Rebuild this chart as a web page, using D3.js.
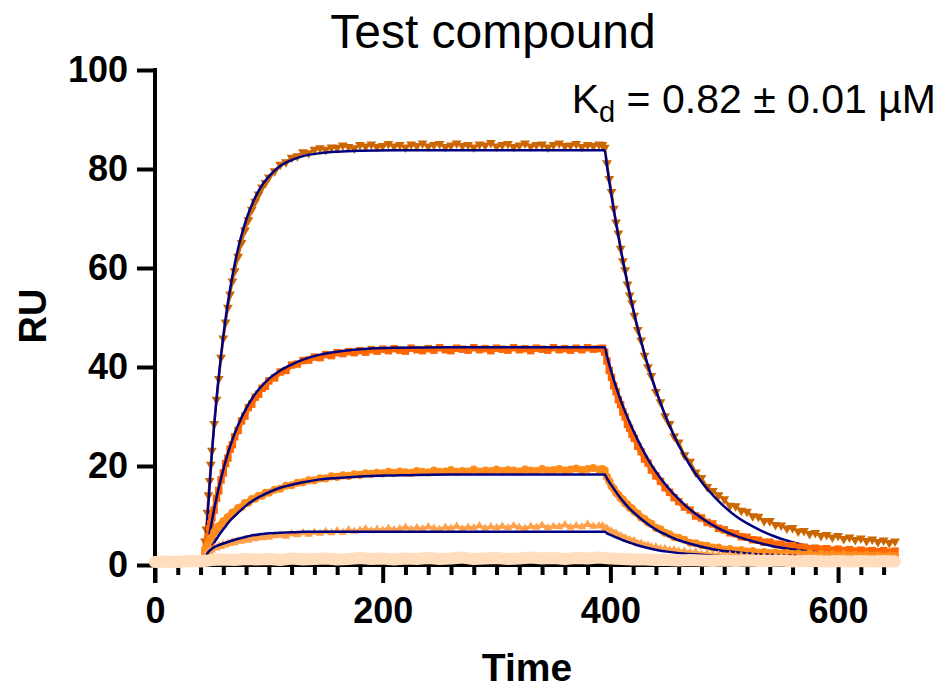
<!DOCTYPE html>
<html>
<head>
<meta charset="utf-8">
<script src="https://cdn.jsdelivr.net/npm/d3@7"></script>
<style>
  body { margin: 0; background: #fff; }
  svg { display: block; font-family: "Liberation Sans", Arial, sans-serif; }
  .axis text { font-weight: bold; font-size: 36px; fill: #000; }
  .axis line, .axis path { stroke: #000; stroke-width: 4; }
</style>
</head>
<body>
<div id="chart"></div>
<script>
// sampling grid (seconds) shared by the four injected concentrations
var time = [44, 45, 46, 47, 48, 49, 50, 52, 54, 56, 58, 60, 62, 64, 66, 68, 70, 73, 76, 79, 82, 85, 88, 91, 94, 97, 100,
    105, 110, 115, 120, 125, 130, 135, 140, 145, 150, 155, 160, 165, 170, 175, 180, 185, 190, 195, 200,
    205, 210, 215, 220, 225, 230, 235, 240, 245, 250, 255, 260, 265, 270, 275, 280, 285, 290, 295, 300,
    305, 310, 315, 320, 325, 330, 335, 340, 345, 350, 355, 360, 365, 370, 375, 380, 385, 390,
    393, 395, 397, 399, 401, 403, 405, 407, 409, 411, 413, 415, 417, 419, 421, 424, 427, 430, 433, 436,
    440, 444, 448, 452, 456, 460,
    465, 470, 475, 480, 485, 490, 495, 500, 505, 510, 515, 520, 525, 530, 535, 540, 545, 550, 555, 560,
    565, 570, 575, 580, 585, 590, 595, 600, 605, 610, 615, 620, 625, 630, 635, 640, 645, 650];

var ruHigh = [4.8, 7.2, 10.6, 14.1, 17.0, 20.3, 23.1, 28.5, 33.4, 37.6, 41.9, 45.8, 49.0, 52.0, 54.7, 57.3, 59.4,
    62.3, 65.1, 67.6, 69.7, 71.8, 73.4, 74.9, 76.3, 77.2, 78.3,
    79.6, 80.9, 81.4, 82.3, 82.6, 83.4, 83.2, 83.9, 84.2, 83.9,
    84.4, 84.3, 84.8, 84.5, 84.2, 84.9, 84.6, 85.0, 84.5, 84.7,
    85.1, 84.6, 84.9, 84.4, 85.0, 84.7, 85.2, 84.6, 84.9, 85.1,
    84.5, 84.8, 85.2, 84.7, 84.9, 84.4, 85.0, 84.8, 85.3, 84.6,
    84.9, 85.1, 84.5, 84.8, 85.2, 84.6, 84.9, 85.0, 84.4, 84.9,
    85.2, 84.7, 84.8, 85.1, 84.5, 84.9, 84.7, 85.0,
    84.9, 84.3, 81.2, 78.0, 75.4, 72.0, 69.2, 67.0, 63.9, 61.4, 59.6, 56.7, 54.5, 52.9, 50.4,
    47.5, 45.4, 42.3, 40.0, 38.2, 35.0, 32.9, 30.1, 28.5, 26.0, 24.8,
    22.2, 20.9, 18.7, 17.6, 15.8, 15.0, 14.1, 13.3, 12.0, 11.9,
    11.0, 10.8, 9.9, 9.8, 8.9, 8.9, 8.1, 8.0, 7.4, 7.5,
    6.8, 6.9, 6.3, 6.5, 5.9, 6.1, 5.6, 5.9, 5.3, 5.6,
    5.1, 5.4, 4.9, 5.2, 4.7, 5.0, 4.5, 4.8];

var ruMid = [2.9, 3.7, 4.8, 5.7, 7.3, 8.3, 9.6, 11.1, 13.5, 15.0, 17.2, 18.6, 20.5, 21.6, 23.4, 24.3, 25.9,
    27.2, 29.1, 30.1, 31.8, 32.5, 33.9, 34.5, 35.7, 36.1, 37.2,
    37.8, 39.0, 39.3, 40.4, 40.6, 41.3, 41.4, 42.0, 41.9, 42.5,
    42.3, 42.9, 42.7, 43.1, 42.9, 43.3, 43.0, 43.5, 43.2, 43.6,
    43.3, 43.7, 43.4, 43.2, 43.8, 43.5, 43.3, 43.7, 43.4, 43.9,
    43.5, 43.3, 43.8, 43.6, 43.4, 43.9, 43.5, 43.7, 43.3, 43.8,
    43.6, 43.4, 43.9, 43.5, 43.7, 43.3, 43.8, 43.6, 43.4, 43.9,
    43.5, 43.7, 43.4, 43.8, 43.5, 43.9, 43.6, 43.7,
    43.8, 43.0, 41.2, 39.3, 37.9, 36.2, 35.0, 33.4, 32.4, 30.9, 29.9, 28.4, 27.6, 26.4, 25.6,
    24.0, 22.9, 21.4, 20.6, 19.2, 18.0, 16.9, 15.6, 14.7, 13.6, 12.8,
    11.7, 11.1, 9.9, 9.5, 8.6, 8.3, 7.4, 7.1, 6.5, 6.3,
    5.7, 5.6, 5.1, 5.0, 4.6, 4.6, 4.2, 4.2, 3.8, 3.9,
    3.6, 3.6, 3.3, 3.4, 3.2, 3.3, 3.0, 3.2, 2.9, 3.1,
    2.8, 3.0, 2.8, 2.9, 2.7, 2.9, 2.6, 2.8];

var ruLow = [2.4, 3.3, 3.7, 4.4, 4.8, 5.4, 5.6, 6.6, 7.0, 7.8, 8.1, 8.8, 9.0, 9.7, 9.9, 10.6, 10.7,
    11.5, 11.7, 12.5, 12.6, 13.3, 13.4, 14.0, 14.0, 14.6, 14.6,
    15.2, 15.4, 16.0, 16.1, 16.6, 16.7, 17.1, 17.1, 17.5, 17.5,
    17.9, 17.8, 18.1, 18.0, 18.3, 18.2, 18.5, 18.4, 18.6, 18.5,
    18.8, 18.6, 18.9, 18.7, 18.6, 19.0, 18.8, 18.7, 19.1, 18.8,
    18.9, 19.2, 18.8, 19.0, 18.9, 19.3, 18.9, 19.1, 19.0, 19.3,
    19.0, 19.2, 19.1, 18.9, 19.3, 19.1, 19.0, 19.4, 19.1, 19.2,
    19.4, 19.1, 19.3, 19.5, 19.2, 19.4, 19.6, 19.3,
    19.4, 19.1, 17.8, 16.9, 15.9, 15.4, 14.6, 14.2, 13.5, 13.2, 12.5, 12.2, 11.6, 11.4, 10.8,
    10.4, 9.6, 9.3, 8.6, 8.3, 7.5, 7.2, 6.5, 6.2, 5.6, 5.5,
    5.1, 4.5, 4.4, 4.0, 3.9, 3.5, 3.5, 3.1, 3.2, 2.9,
    3.0, 2.7, 2.8, 2.5, 2.6, 2.4, 2.5, 2.3, 2.4, 2.2,
    2.3, 2.1, 2.3, 2.0, 2.2, 2.0, 2.1, 1.9, 2.1, 1.9,
    2.0, 1.8, 2.0, 1.8, 1.9, 1.7, 1.9, 1.8];

var ruLowest = [1.8, 2.3, 2.3, 2.8, 2.7, 3.2, 3.0, 3.5, 3.4, 3.9, 3.7, 4.2, 4.0, 4.4, 4.3, 4.7, 4.5,
    4.9, 4.8, 5.2, 5.0, 5.5, 5.3, 5.7, 5.5, 5.8, 5.6,
    5.9, 6.0, 5.8, 6.3, 6.1, 6.5, 6.2, 6.6, 6.4, 6.8,
    6.5, 6.9, 6.6, 7.1, 6.8, 7.0, 7.3, 6.9, 7.2, 7.0,
    7.4, 7.1, 7.3, 7.6, 7.2, 7.5, 7.3, 7.7, 7.4, 7.2,
    7.6, 7.4, 7.8, 7.3, 7.6, 7.5, 7.9, 7.4, 7.7, 7.5,
    7.8, 7.5, 7.9, 7.6, 7.4, 7.8, 7.6, 8.0, 7.5, 7.8,
    7.7, 8.1, 7.6, 7.9, 7.7, 8.2, 7.8, 7.9,
    7.9, 7.5, 7.4, 6.9, 6.8, 6.4, 6.4, 5.9, 5.9, 5.5, 5.5, 5.1, 5.1, 4.8, 4.9,
    4.4, 4.4, 4.0, 4.0, 3.7, 3.7, 3.3, 3.3, 3.0, 3.1, 2.8,
    2.8, 2.5, 2.6, 2.2, 2.3, 2.0, 2.1, 1.8, 2.0, 1.8,
    1.9, 1.7, 1.8, 1.6, 1.8, 1.6, 1.7, 1.5, 1.7, 1.5,
    1.6, 1.4, 1.6, 1.4, 1.5, 1.4, 1.5, 1.3, 1.5, 1.3,
    1.4, 1.3, 1.4, 1.2, 1.4, 1.2, 1.3, 1.2];

// buffer / zero concentration trace
var blankTime = [0, 10, 20, 30, 40, 50, 60, 70, 80, 90, 100, 110, 120, 130, 140, 150, 160, 170, 180, 190,
    200, 210, 220, 230, 240, 250, 260, 270, 280, 290, 300, 310, 320, 330, 340, 350, 360, 370, 380, 390,
    400, 410, 420, 430, 440, 450, 460, 470, 480, 490, 500, 510, 520, 530, 540, 550, 560, 570, 580, 590,
    600, 610, 620, 630, 640, 650];
var ruBlank = [0.6, 0.7, 0.6, 0.8, 0.7,
    1.0, 1.1, 1.0, 1.2, 1.1, 1.2, 1.0, 1.3, 1.1, 1.2, 1.3, 1.1, 1.2, 1.4, 1.2, 1.3, 1.1, 1.3, 1.2, 1.4,
    1.2, 1.3, 1.5, 1.2, 1.3, 1.4, 1.2, 1.3, 1.5, 1.3, 1.4, 1.2, 1.4, 1.3, 1.5,
    1.3, 1.2, 1.1, 1.1, 1.0, 1.0, 0.9, 1.0, 0.9, 0.8, 0.9, 0.8, 0.9, 0.8, 0.8, 0.9, 0.7, 0.8, 0.8, 0.7,
    0.8, 0.7, 0.8, 0.7, 0.8, 0.7];

// global 1:1 fit curves
var fitTime = [44, 45, 46, 48, 50, 52, 55, 58, 62, 66, 70, 75, 80, 86, 92, 100, 110, 120, 130, 145,
    160, 180, 210, 260, 320, 395,
    397, 400, 403, 407, 411, 416, 421, 427, 434, 442, 450, 460, 470, 482, 495, 510, 525, 545, 565, 590,
    620, 650];
var fitHigh = [1.6, 5.6, 9.3, 16.2, 22.6, 28.3, 35.9, 42.4, 49.8, 55.8, 60.8, 65.8, 69.7, 73.3, 76.0, 78.5,
    80.6, 81.8, 82.6, 83.2, 83.5, 83.7, 83.8, 83.8, 83.8, 83.8,
    80.6, 76.0, 71.7, 66.4, 61.5, 55.8, 50.7, 45.2, 39.5, 34.0, 29.2, 24.2, 20.1, 16.2, 12.9, 9.9,
    7.8, 5.7, 4.3, 3.2, 2.5, 2.0];
var fitMid = [0.6, 2.1, 3.6, 6.3, 8.9, 11.3, 14.6, 17.5, 21.0, 24.0, 26.6, 29.3, 31.6, 33.9, 35.7, 37.6,
    39.3, 40.5, 41.5, 42.5, 43.1, 43.6, 43.9, 44.0, 44.0, 44.0,
    42.2, 39.7, 37.4, 34.6, 32.1, 29.3, 26.7, 23.9, 21.0, 18.2, 15.8, 13.3, 11.2, 9.2, 7.4, 5.9,
    4.8, 3.7, 3.0, 2.4, 2.0, 1.8];
var fitLow = [1.0, 1.5, 1.9, 2.8, 3.7, 4.5, 5.6, 6.6, 7.8, 9.0, 9.9, 11.0, 12.0, 13.0, 13.8, 14.7,
    15.6, 16.2, 16.7, 17.3, 17.6, 17.9, 18.1, 18.3, 18.3, 18.3,
    17.5, 16.4, 15.4, 14.1, 12.9, 11.6, 10.5, 9.3, 8.1, 6.9, 6.0, 5.0, 4.3, 3.6, 3.0, 2.6,
    2.2, 2.0, 1.8, 1.6, 1.6, 1.5];
var fitLowest = [1.2, 1.8, 2.3, 2.9, 3.3, 3.6, 3.9, 4.2, 4.5, 4.8, 5.1, 5.4, 5.7, 6.0, 6.2, 6.4,
    6.5, 6.6, 6.7, 6.7, 6.7, 6.7, 6.7, 6.7, 6.7, 6.7,
    6.4, 6.1, 5.8, 5.4, 5.0, 4.6, 4.2, 3.8, 3.4, 3.0, 2.7, 2.4, 2.2, 2.0, 1.8, 1.7,
    1.6, 1.5, 1.5, 1.4, 1.4, 1.4];

var yTicks = [0, 20, 40, 60, 80, 100];
var xTicks = [0, 200, 400, 600];

var width = 949,
    height = 690;

var x = d3.scaleLinear().domain([0, 650]).range([155, 895]);
var y = d3.scaleLinear().domain([0, 100]).range([565, 70]);

var svg = d3.select("#chart").append("svg")
    .attr("width", width)
    .attr("height", height);

// axes first, the blank trace sits on top of the x axis line
var yAxis = svg.append("g")
    .attr("class", "axis")
    .attr("transform", "translate(" + x(0) + ",0)")
    .call(d3.axisLeft(y).tickValues(yTicks).tickSize(18).tickSizeOuter(0).tickPadding(9));
yAxis.select(".domain").remove();
yAxis.append("line")
    .attr("x1", 0).attr("x2", 0)
    .attr("y1", y(100) - 2).attr("y2", y(0) + 18);

var xMinor = svg.append("g")
    .attr("class", "axis")
    .attr("transform", "translate(0," + y(0) + ")")
    .call(d3.axisBottom(x)
        .tickValues(d3.range(20, 650, 20).filter(function(v) { return v % 200 != 0; }))
        .tickSize(10).tickSizeOuter(0).tickFormat(""));
xMinor.select(".domain").remove();

var xAxis = svg.append("g")
    .attr("class", "axis")
    .attr("transform", "translate(0," + y(0) + ")")
    .call(d3.axisBottom(x).tickValues(xTicks).tickSize(18).tickSizeOuter(0).tickPadding(14));
xAxis.select(".domain").attr("d", "M" + x(0) + ",0H" + x(650));

var series = [
    { values: ruHigh, fit: fitHigh, color: "#CC6600", shape: d3.symbolTriangle, size: 42, flip: true, lw: 2.5 },
    { values: ruMid, fit: fitMid, color: "#FF6600", shape: d3.symbolSquare, size: 56, flip: false, lw: 5 },
    { values: ruLow, fit: fitLow, color: "#FF8C1A", shape: d3.symbolCircle, size: 52, flip: false, lw: 5 },
    { values: ruLowest, fit: fitLowest, color: "#FFA04A", shape: d3.symbolTriangle, size: 30, flip: false, lw: 3.5 }
];

var line = d3.line()
    .x(function(d) { return x(d[0]); })
    .y(function(d) { return y(d[1]); });

var fitLine = d3.line()
    .curve(d3.curveMonotoneX)
    .x(function(d) { return x(d[0]); })
    .y(function(d) { return y(d[1]); });

series.forEach(function(s) {
    var pts = time.map(function(t, i) { return [t, s.values[i]]; })
        .filter(function(d) { return d[1] != null; });
    var fpts = fitTime.map(function(t, i) { return [t, s.fit[i]]; })
        .filter(function(d) { return d[1] != null; });

    var g = svg.append("g");
    g.append("path")
        .datum(pts)
        .attr("d", line)
        .attr("fill", "none")
        .attr("stroke", s.color)
        .attr("stroke-width", s.lw);

    g.selectAll("path.pt")
        .data(pts)
        .enter().append("path")
        .attr("class", "pt")
        .attr("d", d3.symbol().type(s.shape).size(s.size))
        .attr("transform", function(d) {
            return "translate(" + x(d[0]) + "," + y(d[1]) + ")" + (s.flip ? " rotate(180)" : "");
        })
        .attr("fill", s.color);

    g.append("path")
        .datum(fpts)
        .attr("d", fitLine)
        .attr("fill", "none")
        .attr("stroke", "#000080")
        .attr("stroke-width", 2.5);
});

// blank trace: thick pale band
var blank = blankTime.map(function(t, i) { return [t, ruBlank[i]]; });
svg.append("path")
    .datum(blank)
    .attr("d", line)
    .attr("fill", "none")
    .attr("stroke", "#FFDDBD")
    .attr("stroke-width", 12)
    .attr("stroke-linecap", "round")
    .attr("stroke-linejoin", "round");

// titles
svg.append("text")
    .attr("x", 493)
    .attr("y", 48)
    .attr("text-anchor", "middle")
    .style("font-size", "48px")
    .text("Test compound");

var kd = svg.append("text")
    .attr("x", 936)
    .attr("y", 113)
    .attr("text-anchor", "end")
    .style("font-size", "41px");
kd.append("tspan").text("K");
kd.append("tspan").attr("dy", 9).style("font-size", "29px").text("d");
kd.append("tspan").attr("dy", -9).text(" = 0.82 \u00b1 0.01 \u00b5M");

svg.append("text")
    .attr("transform", "translate(46,316) rotate(-90)")
    .attr("text-anchor", "middle")
    .style("font-weight", "bold")
    .style("font-size", "38px")
    .text("RU");

svg.append("text")
    .attr("x", 527)
    .attr("y", 681)
    .attr("text-anchor", "middle")
    .style("font-weight", "bold")
    .style("font-size", "39px")
    .text("Time");
</script>
</body>
</html>
